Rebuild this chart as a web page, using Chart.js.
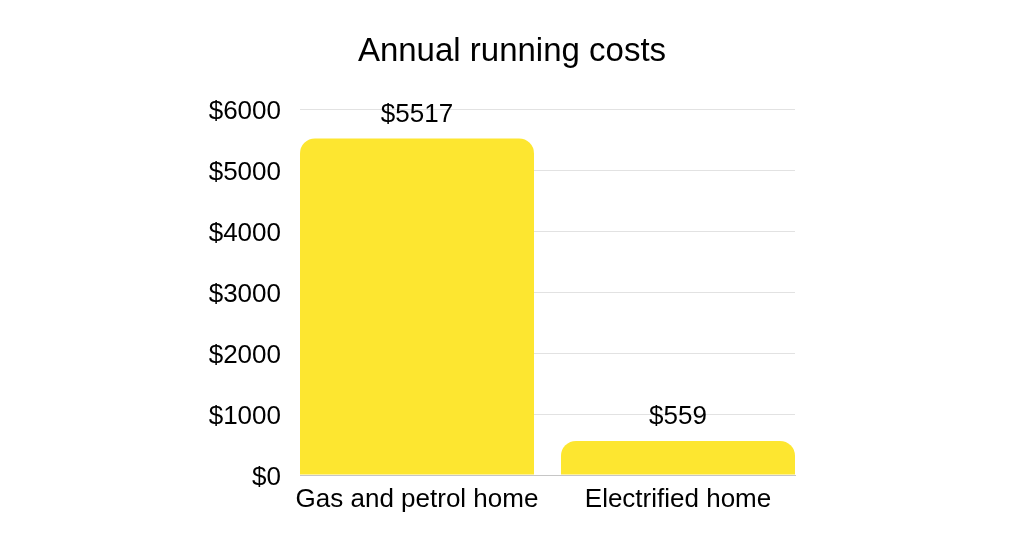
<!DOCTYPE html>
<html>
<head>
<meta charset="utf-8">
<script src="https://cdn.jsdelivr.net/npm/chart.js@4/dist/chart.umd.min.js"></script>
<style>
html,body{margin:0;padding:0;background:#fff;}
#wrap{width:1024px;height:538px;position:relative;}
</style>
</head>
<body>
<div id="wrap"><canvas id="c" width="1024" height="538"></canvas></div>
<script>
const titleText = 'Annual running costs';
const categories = ['Gas and petrol home', 'Electrified home'];
const values = [5517, 559];
const yTicks = [0, 1000, 2000, 3000, 4000, 5000, 6000];

const FONT = "'Liberation Sans', Arial, Helvetica, sans-serif";
const barColor = 'rgb(253,230,48)';

const valueLabels = {
  id: 'valueLabels',
  afterDatasetsDraw(chart) {
    const ctx = chart.ctx;
    ctx.save();
    ctx.font = '26px ' + FONT;
    ctx.fillStyle = '#000';
    ctx.textAlign = 'center';
    ctx.textBaseline = 'middle';
    chart.data.datasets.forEach((ds, di) => {
      const meta = chart.getDatasetMeta(di);
      meta.data.forEach((el, i) => {
        const v = ds.data[i].y;
        ctx.fillText('$' + v, el.x, el.y - 24);
      });
    });
    ctx.restore();
  }
};

new Chart(document.getElementById('c'), {
  type: 'bar',
  data: {
    datasets: [{
      data: values.map((v, i) => ({x: i, y: v})),
      backgroundColor: barColor,
      borderRadius: 15,
      borderSkipped: 'bottom',
      categoryPercentage: 1,
      barPercentage: 0.8966
    }]
  },
  options: {
    responsive: false,
    animation: false,
    layout: {padding: 0},
    plugins: {
      legend: {display: false},
      tooltip: {enabled: false},
      title: {
        display: true,
        text: titleText,
        color: '#000',
        font: {family: FONT, size: 33, weight: 'normal', lineHeight: 1.2},
        padding: {top: 32, bottom: 37.4}
      }
    },
    scales: {
      x: {
        type: 'linear',
        min: -0.4483,
        max: 1.4483,
        offset: false,
        afterBuildTicks: (scale) => { scale.ticks = categories.map((_, i) => ({value: i})); },
        afterFit: (scale) => { scale.height = 63; },
        grid: {display: false, drawTicks: false},
        border: {display: true, color: '#c6c6c6', width: 1},
        ticks: {
          autoSkip: false,
          maxRotation: 0,
          padding: 9,
          color: '#000',
          font: {family: FONT, size: 26},
          callback: (v) => categories[v] ?? ''
        }
      },
      y: {
        min: 0,
        max: 6000,
        afterBuildTicks: (scale) => { scale.ticks = yTicks.map(v => ({value: v})); },
        afterFit: (scale) => { scale.width = 300; },
        grid: {color: '#e2e2e2', drawTicks: false, lineWidth: 1},
        border: {display: false},
        ticks: {
          padding: 19,
          labelOffset: 2.5,
          color: '#000',
          font: {family: FONT, size: 26},
          callback: (v) => '$' + v
        }
      },
      yRight: {
        position: 'right',
        min: 0,
        max: 6000,
        afterFit: (scale) => { scale.width = 229; },
        grid: {display: false, drawTicks: false},
        border: {display: false},
        ticks: {display: false}
      }
    }
  },
  plugins: [valueLabels]
});
</script>
</body>
</html>
